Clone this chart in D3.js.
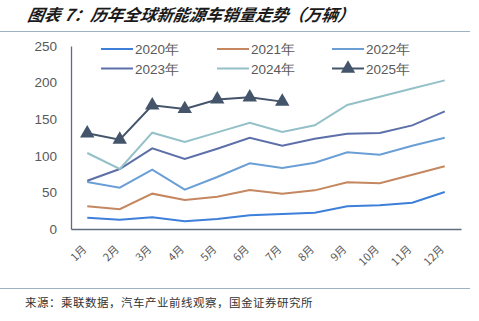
<!DOCTYPE html>
<html><head><meta charset="utf-8">
<script src="https://cdn.jsdelivr.net/npm/d3@7"></script>
<style>body{margin:0;background:#fff;}svg{display:block;}</style>
</head><body>
<svg id="c" width="479" height="321"></svg>
<script>
const months = ["1月","2月","3月","4月","5月","6月","7月","8月","9月","10月","11月","12月"];
const seriesNames = ["2020年","2021年","2022年","2023年","2024年","2025年"];
const s2020 = [15.5,12.5,16,10.5,13.7,18.7,20.5,22.3,31,32.4,36,50.5];
const s2021 = [31,27,48.3,39.6,44.2,53.3,48.3,52.8,63.7,62.4,74.2,85.6];
const s2022 = [64.2,56.4,81,53.7,71,89.7,83.3,90.6,104.8,101.5,113.8,124.7];
const s2023 = [66,82,110.2,95.6,109.7,124.7,113.8,123.4,130.2,131.1,141.6,160.8];
const s2024 = [103.8,82,131.6,118.9,132,145.2,132.5,141.6,169.4,180.7,192,203];
const s2025 = [130.7,122,169,164,177,180,174];
const yTicks = [0,50,100,150,200,250];
const colors = ["#3D7FD9","#C4875F","#6A9FD6","#5C6FA8","#94C1C8","#44546A"];
const data = [s2020,s2021,s2022,s2023,s2024,s2025];

const svg = d3.select("#c");
const font = "'Liberation Sans', Arial, sans-serif";
const cjk = "'Noto Sans CJK SC', sans-serif";

// title
svg.append("text").attr("x",27).attr("y",21)
  .attr("font-family",cjk).attr("font-size",16.5).attr("font-weight","bold").attr("font-style","italic")
  .attr("fill","#1a1a1a").attr("transform","skewX(-10) translate(3.5,0)")
  .text("图表 7：历年全球新能源车销量走势（万辆）");
svg.append("line").attr("x1",0).attr("x2",470).attr("y1",31.5).attr("y2",31.5).attr("stroke","#9DB3C2").attr("stroke-width",1);
svg.append("line").attr("x1",0).attr("x2",470).attr("y1",288.5).attr("y2",288.5).attr("stroke","#9DB3C2").attr("stroke-width",1);
svg.append("text").attr("x",25).attr("y",307)
  .attr("font-family",cjk).attr("font-size",11.5).attr("fill","#333").attr("letter-spacing",0.5)
  .text("来源：乘联数据，汽车产业前线观察，国金证券研究所");

const x = d3.scaleBand().domain(months).range([71,461]);
const y = d3.scaleLinear().domain([0,250]).range([229,46]);

// y axis
const ya = svg.append("g").attr("transform","translate(71,0)")
  .call(d3.axisLeft(y).tickValues(yTicks).tickSize(0).tickPadding(14));
ya.select(".domain").attr("stroke","#5F6B7E").attr("stroke-width",1.3);
ya.selectAll("text").attr("font-family",font).attr("font-size",13.5).attr("fill","#595959");

// x axis
const xa = svg.append("g").attr("transform","translate(0,229)")
  .call(d3.axisBottom(x).tickSize(0).tickSizeOuter(0));
xa.select(".domain").attr("stroke","#5F6B7E").attr("stroke-width",1.3);
xa.selectAll("text").attr("font-family",cjk).attr("font-size",11).attr("fill","#595959")
  .attr("text-anchor","end").attr("dy",0).attr("y",0)
  .attr("transform","translate(0,21) rotate(-45)");

const line = d3.line().x((d,i)=>x(months[i])+x.bandwidth()/2).y(d=>y(d));
data.forEach((s,k)=>{
  svg.append("path").datum(s).attr("d",line).attr("fill","none")
    .attr("stroke",colors[k]).attr("stroke-width",2);
});
const tri = d3.symbol().type(d3.symbolTriangle).size(90);
svg.selectAll(".tri").data(s2025).enter().append("path")
  .attr("d",tri).attr("fill",colors[5])
  .attr("transform",(d,i)=>`translate(${x(months[i])+x.bandwidth()/2},${y(d)})`);

// legend
const lx = [101,217,332], ly = [49,68.5];
seriesNames.forEach((n,k)=>{
  const cx = lx[k%3], cy = ly[Math.floor(k/3)];
  svg.append("line").attr("x1",cx).attr("x2",cx+32).attr("y1",cy).attr("y2",cy)
    .attr("stroke",colors[k]).attr("stroke-width",2);
  if(k===5) svg.append("path").attr("d",tri).attr("fill",colors[5])
    .attr("transform",`translate(${cx+16},${cy})`);
  svg.append("text").attr("x",cx+34).attr("y",cy+5)
    .attr("font-family",font).attr("font-size",13.5).attr("fill","#595959").text(n);
});
</script>
</body></html>
